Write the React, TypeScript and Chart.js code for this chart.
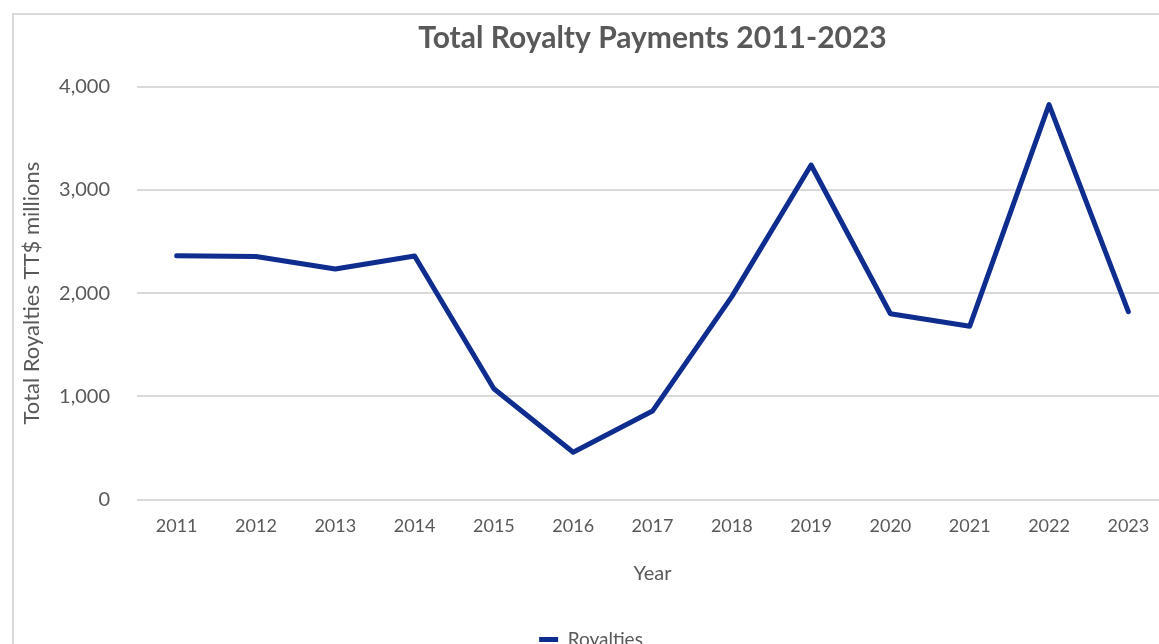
import React, { useEffect, useRef } from "react";
import { Chart, registerables } from "chart.js";

Chart.register(...registerables);

const years = ["2011", "2012", "2013", "2014", "2015", "2016", "2017", "2018", "2019", "2020", "2021", "2022", "2023"];
const royalties = [2362, 2355, 2234, 2360, 1074, 460, 858, 1966, 3240, 1800, 1680, 3825, 1820];
const yMin = 0;
const yMax = 4000;
const yStep = 1000;

const chartTitle = "Total Royalty Payments 2011-2023";
const xTitle = "Year";
const yTitle = "Total Royalties TT$ millions";
const seriesName = "Royalties";

const textColor = "#595959";
const lineColor = "#0f2d8e";
const gridColor = "#d9d9d9";
const fontFamily = "Lato, 'Open Sans', sans-serif";

export default function App() {
  const ref = useRef<HTMLCanvasElement>(null);

  useEffect(() => {
    if (!ref.current) return;
    const chart = new Chart(ref.current, {
      type: "line",
      data: {
        labels: years,
        datasets: [
          {
            label: seriesName,
            data: royalties,
            borderColor: lineColor,
            backgroundColor: lineColor,
            borderWidth: 5,
            pointRadius: 0,
            pointHoverRadius: 0,
            tension: 0,
            borderJoinStyle: "round",
            borderCapStyle: "round",
            fill: false,
          },
        ],
      },
      options: {
        responsive: false,
        animation: false,
        devicePixelRatio: 1,
        layout: { padding: { left: 0, right: 46, top: 0, bottom: 0 } },
        plugins: {
          title: {
            display: true,
            text: chartTitle,
            fullSize: false,
            color: textColor,
            font: { family: fontFamily, size: 30, weight: "bold" },
            padding: { top: 5, bottom: 30.5 },
          },
          legend: {
            position: "bottom",
            labels: {
              usePointStyle: true,
              pointStyle: "line",
              pointStyleWidth: 19,
              color: textColor,
              font: { family: fontFamily, size: 19 },
              padding: 10,
            },
          },
          tooltip: { enabled: false },
        },
        scales: {
          x: {
            offset: true,
            grid: { display: false, drawTicks: false, offset: true },
            border: { display: false },
            ticks: {
              color: textColor,
              font: { family: fontFamily, size: 18 },
              padding: 16,
              maxRotation: 0,
              autoSkip: false,
            },
            title: {
              display: true,
              text: xTitle,
              color: textColor,
              font: { family: fontFamily, size: 20 },
              padding: { top: 8, bottom: 34.7 },
            },
          },
          y: {
            min: yMin,
            max: yMax,
            ticks: {
              stepSize: yStep,
              color: textColor,
              font: { family: fontFamily, size: 20 },
              padding: 27,
              callback: (v: any) => Number(v).toLocaleString("en-US"),
            },
            grid: { color: gridColor, lineWidth: 2, drawTicks: false },
            border: { display: false },
            title: {
              display: true,
              text: yTitle,
              color: textColor,
              font: { family: fontFamily, size: 22 },
              padding: { top: 5, bottom: 5 },
            },
            afterFit: (scale: any) => {
              scale.width = 123;
            },
          },
        },
      },
    });
    return () => chart.destroy();
  }, []);

  return (
    <div
      style={{
        position: "fixed",
        left: 0,
        top: 0,
        width: 1159,
        height: 644,
        overflow: "hidden",
        background: "#ffffff",
      }}
    >
      <div
        style={{
          position: "absolute",
          left: 12,
          top: 13,
          width: 1300,
          height: 720,
          border: `2px solid ${gridColor}`,
          background: "#ffffff",
        }}
      >
        <canvas ref={ref} width={1200} height={644} style={{ display: "block" }} />
      </div>
    </div>
  );
}
